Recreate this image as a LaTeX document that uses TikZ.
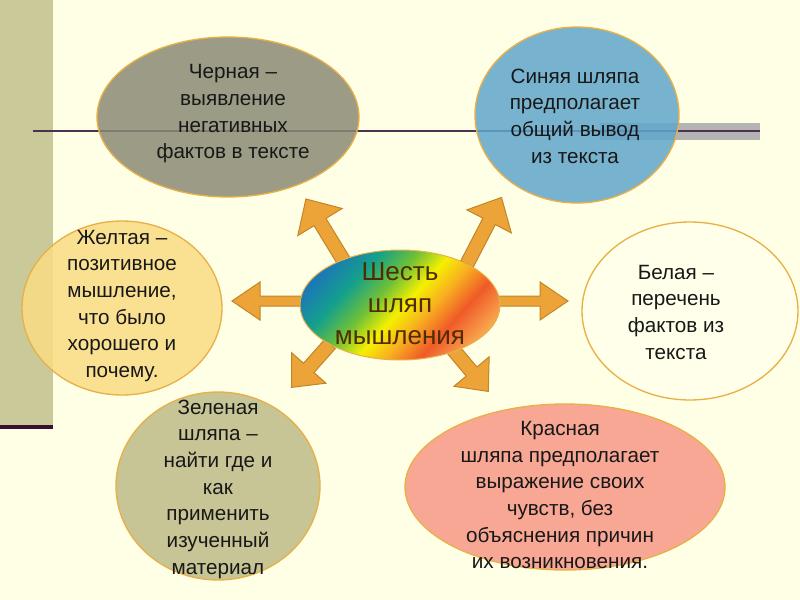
\documentclass[tikz,border=0pt]{standalone}
\usepackage{fontspec}
\setmainfont{Liberation Sans}
\usetikzlibrary{shapes.geometric}
\definecolor{bgc}{RGB}{255,255,229}
\definecolor{stripc}{RGB}{201,201,154}
\definecolor{stripline}{RGB}{58,16,48}
\definecolor{bandc}{RGB}{180,180,180}
\definecolor{linec}{RGB}{80,48,80}
\definecolor{rimc}{RGB}{232,176,72}
\definecolor{blackc}{RGB}{138,138,118}
\definecolor{bluec}{RGB}{96,166,204}
\definecolor{whitec}{RGB}{255,255,236}
\definecolor{yellowc}{RGB}{250,220,132}
\definecolor{greenc}{RGB}{190,186,136}
\definecolor{redc}{RGB}{248,152,136}
\definecolor{arrowc}{RGB}{236,164,56}
\definecolor{arrowrim}{RGB}{196,132,40}
\definecolor{textc}{RGB}{24,24,24}
\definecolor{centertext}{RGB}{80,44,0}
\definecolor{sba}{RGB}{28,118,184}
\definecolor{sbb}{RGB}{20,160,140}
\definecolor{sbc}{RGB}{110,192,56}
\definecolor{sbd}{RGB}{244,240,0}
\definecolor{sbe}{RGB}{248,176,32}
\definecolor{sbf}{RGB}{240,90,40}
\definecolor{sbg}{RGB}{248,170,80}
\pgfdeclarehorizontalshading{rainbowsh}{100bp}{color(0bp)=(sba); color(24bp)=(sba); color(34bp)=(sbb); color(43bp)=(sbc); color(51bp)=(sbd); color(58bp)=(sbe); color(66bp)=(sbf); color(76bp)=(sbg); color(100bp)=(sbg)}
\newcommand\blockarrow[7]{%
  \path[fill=arrowc, draw=arrowrim, line width=0.75pt, shift={(#1,#2)}, rotate=#3]
    (0,-#5/2) -- (#4-#7,-#5/2) -- (#4-#7,-#6/2) -- (#4,0) -- (#4-#7,#6/2) -- (#4-#7,#5/2) -- (0,#5/2) -- cycle;}
\begin{document}
\begin{tikzpicture}[x=0.75pt,y=-0.75pt,
  every node/.style={inner sep=0pt, outer sep=0pt},
  hat/.style={ellipse, draw=rimc, line width=1pt, fill opacity=0.85},
  txt/.style={align=center, font=\fontsize{15.5}{20}\selectfont, text=textc}]
\useasboundingbox (0,0) rectangle (800,600);
\fill[bgc] (0,0) rectangle (800,600);
\fill[stripc] (0,0) rectangle (53,425);
\fill[stripline] (0,425) rectangle (53,429);
\fill[bandc] (600,123) rectangle (760,140);
\draw[linec, line width=1.5pt] (33,131) -- (760,131);
% ellipses
\node[hat, fill=blackc, minimum width=262*0.75pt, minimum height=160*0.75pt] (black) at (228,117) {};
\node[hat, fill=bluec, minimum width=204*0.75pt, minimum height=176*0.75pt] (blue) at (577,115) {};
\node[hat, fill=whitec, minimum width=216*0.75pt, minimum height=178*0.75pt] (white) at (690,311) {};
\node[hat, fill=yellowc, minimum width=200*0.75pt, minimum height=174*0.75pt] (yellow) at (122,308) {};
\node[hat, fill=greenc, minimum width=204*0.75pt, minimum height=188*0.75pt] (green) at (218,486) {};
\node[hat, fill=redc, minimum width=320*0.75pt, minimum height=166*0.75pt] (red) at (565,487) {};
% arrows
\blockarrow{345}{263}{121.4}{75}{14}{52}{27}
\blockarrow{467}{264}{62.6}{75}{14}{50}{27}
\blockarrow{303}{301}{180}{71}{10}{38}{28}
\blockarrow{497}{301}{0}{71}{10}{38}{28}
\blockarrow{330}{344}{228.4}{58}{14}{46}{26}
\blockarrow{451}{347}{-50}{58}{14}{46}{26}
% center
\node[ellipse, draw=rimc, line width=0.75pt, shading=rainbowsh, shading angle=-42, minimum width=200*0.75pt, minimum height=110*0.75pt] (center) at (400,305) {};
% texts
\node[txt] (tblack) at (233,114) {Черная –\\выявление\\негативных\\фактов в тексте};
\node[txt] (tblue) at (575,116) {Синяя шляпа\\предполагает\\общий вывод\\из текста};
\node[txt] (twhite) at (676,312) {Белая –\\перечень\\фактов из\\текста};
\node[txt] (tyellow) at (122,306) {Желтая –\\позитивное\\мышление,\\что было\\хорошего и\\почему.};
\node[txt] (tgreen) at (218,489) {Зеленая\\шляпа –\\найти где и\\как\\применить\\изученный\\материал};
\node[txt] (tred) at (560,495) {Красная\\шляпа предполагает\\выражение своих\\чувств, без\\объяснения причин\\их возникновения.};
\node[align=center, font=\fontsize{19.5}{24}\selectfont, text=centertext] (tcenter) at (400,304) {Шесть\\шляп\\мышления};
\end{tikzpicture}
\end{document}
